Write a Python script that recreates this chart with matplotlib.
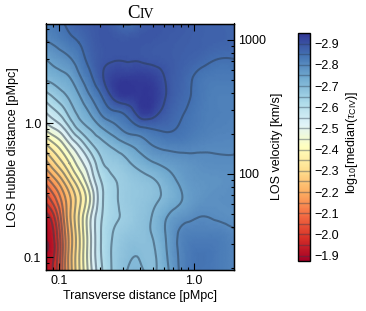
# median C IV optical depth map, transverse vs LOS distance
import numpy as np
import matplotlib
matplotlib.use('Agg')
import matplotlib.pyplot as plt
import matplotlib.tri as mtri
from matplotlib.ticker import FixedLocator, FixedFormatter, NullFormatter, LogLocator

plt.rcParams['font.family'] = ['Liberation Sans', 'DejaVu Sans']
plt.rcParams['mathtext.fontset'] = 'custom'
plt.rcParams['mathtext.rm'] = 'Liberation Sans'
plt.rcParams['mathtext.it'] = 'Liberation Serif:italic'

# transverse distance [pMpc], one per column
transverse = [0.08, 0.09, 0.105, 0.12, 0.14, 0.17, 0.2, 0.25, 0.32, 0.4, 0.5, 0.65, 0.85, 1.1, 1.5, 2.0]
# LOS distance [pMpc], one per row
los = [5.5, 4.0, 3.0, 2.2, 1.6, 1.2, 0.9, 0.7, 0.5, 0.37, 0.27, 0.2, 0.15, 0.11, 0.08]

# log10 median tau
log_tau = [
    [-2.82, -2.83, -2.845, -2.86, -2.875, -2.885, -2.89, -2.875, -2.845, -2.875, -2.89, -2.89, -2.885, -2.875, -2.87, -2.865],
    [-2.795, -2.805, -2.82, -2.835, -2.85, -2.875, -2.89, -2.893, -2.893, -2.893, -2.89, -2.885, -2.88, -2.875, -2.87, -2.865],
    [-2.75, -2.765, -2.78, -2.795, -2.825, -2.865, -2.888, -2.897, -2.897, -2.895, -2.89, -2.885, -2.875, -2.865, -2.85, -2.85],
    [-2.71, -2.72, -2.735, -2.75, -2.79, -2.84, -2.885, -2.925, -2.935, -2.935, -2.925, -2.89, -2.865, -2.84, -2.83, -2.83],
    [-2.63, -2.655, -2.685, -2.71, -2.745, -2.80, -2.84, -2.91, -2.94, -2.945, -2.94, -2.89, -2.86, -2.835, -2.82, -2.82],
    [-2.55, -2.58, -2.62, -2.67, -2.71, -2.755, -2.80, -2.84, -2.865, -2.925, -2.92, -2.875, -2.85, -2.83, -2.82, -2.815],
    [-2.46, -2.49, -2.53, -2.59, -2.655, -2.70, -2.735, -2.775, -2.815, -2.835, -2.85, -2.855, -2.84, -2.825, -2.815, -2.81],
    [-2.35, -2.39, -2.44, -2.50, -2.56, -2.64, -2.68, -2.715, -2.75, -2.775, -2.805, -2.82, -2.82, -2.81, -2.805, -2.805],
    [-2.23, -2.28, -2.34, -2.40, -2.47, -2.55, -2.63, -2.665, -2.69, -2.72, -2.745, -2.765, -2.78, -2.79, -2.795, -2.795],
    [-2.12, -2.17, -2.24, -2.31, -2.39, -2.50, -2.59, -2.645, -2.665, -2.68, -2.695, -2.73, -2.765, -2.78, -2.785, -2.79],
    [-2.02, -2.07, -2.16, -2.24, -2.33, -2.45, -2.57, -2.64, -2.665, -2.675, -2.69, -2.72, -2.755, -2.78, -2.79, -2.795],
    [-1.93, -1.98, -2.12, -2.24, -2.35, -2.49, -2.585, -2.64, -2.66, -2.68, -2.705, -2.755, -2.785, -2.80, -2.795, -2.79],
    [-1.905, -1.94, -2.09, -2.22, -2.34, -2.49, -2.59, -2.65, -2.675, -2.685, -2.705, -2.765, -2.815, -2.82, -2.82, -2.805],
    [-1.90, -1.93, -2.08, -2.22, -2.34, -2.49, -2.59, -2.655, -2.69, -2.695, -2.695, -2.76, -2.82, -2.84, -2.83, -2.81],
    [-1.92, -1.95, -2.09, -2.22, -2.34, -2.48, -2.58, -2.655, -2.70, -2.705, -2.695, -2.75, -2.82, -2.84, -2.83, -2.81],
]

levels = [-2.90 + 0.05 * i for i in range(21)]
cbar_ticks = [-2.9, -2.8, -2.7, -2.6, -2.5, -2.4, -2.3, -2.2, -2.1, -2.0, -1.9]
vmin, vmax = -2.95, -1.875
hubble = 239.0  # km/s per pMpc, links the two y axes
xlim = (0.0801, 1.98)
ylim = (0.0804, 5.53)
cmap = 'RdYlBu_r'
line_col = '#2c3c50'

fig = plt.figure(figsize=(3.66, 3.11), dpi=100)
W, H = 366.0, 311.0
rect = [46 / W, (H - 270) / H, 188 / W, 246.5 / H]

# map axes are linear in log10 so gouraud shading works, ticks go on a log axes above it
ax_map = fig.add_axes(rect)
xx, yy = np.meshgrid(np.log10(transverse), np.log10(los))
z = np.array(log_tau).ravel()
base = mtri.Triangulation(xx.ravel(), yy.ravel())
refiner = mtri.UniformTriRefiner(base)
fine, fine_z = refiner.refine_field(z, subdiv=3)
ax_map.tripcolor(fine, fine_z, shading='gouraud', cmap=cmap, vmin=vmin, vmax=vmax)
ax_map.tricontour(fine, fine_z, levels=levels, colors=line_col, linewidths=1.5, alpha=0.5,
                  negative_linestyles='solid')
ax_map.set_xlim(np.log10(xlim))
ax_map.set_ylim(np.log10(ylim))
ax_map.axis('off')

ax = fig.add_axes(rect)
ax.patch.set_visible(False)
ax.set_xscale('log')
ax.set_yscale('log')
ax.set_xlim(xlim)
ax.set_ylim(ylim)
ax.xaxis.set_major_locator(FixedLocator([0.1, 1.0]))
ax.xaxis.set_major_formatter(FixedFormatter(['0.1', '1.0']))
ax.xaxis.set_minor_formatter(NullFormatter())
ax.yaxis.set_major_locator(FixedLocator([0.1, 1.0]))
ax.yaxis.set_major_formatter(FixedFormatter(['0.1', '1.0']))
ax.yaxis.set_minor_formatter(NullFormatter())
ax.tick_params(which='major', direction='in', length=5, width=0.8, top=True, labelsize=9, pad=3.5)
ax.tick_params(which='minor', direction='in', length=2.5, width=0.8, top=True)
ax.tick_params(axis='y', right=False, which='both')
for s in ax.spines.values():
    s.set_linewidth(1.0)
ax.set_xlabel('Transverse distance [pMpc]', fontsize=9, labelpad=2)
ax.set_ylabel('LOS Hubble distance [pMpc]', fontsize=9)
ax.yaxis.set_label_coords(-0.144, 0.5)

# velocity axis on the right
ax2 = ax.twinx()
ax2.patch.set_visible(False)
ax2.set_yscale('log')
ax2.set_ylim(ylim[0] * hubble, ylim[1] * hubble)
ax2.yaxis.set_major_locator(FixedLocator([100, 1000]))
ax2.yaxis.set_major_formatter(FixedFormatter(['100', '1000']))
ax2.yaxis.set_minor_locator(LogLocator(base=10, subs=np.arange(2, 10) * 1.0, numticks=10))
ax2.yaxis.set_minor_formatter(NullFormatter())
ax2.tick_params(which='major', direction='in', length=5, width=0.8, labelsize=9, pad=3)
ax2.tick_params(which='minor', direction='in', length=2.5, width=0.8)
ax2.set_ylabel('LOS velocity [km/s]', fontsize=9)
ax2.yaxis.set_label_coords(1.195, 0.5)

# title: large C, smaller IV
fig.text(127.5 / W, (H - 18) / H, 'C', family='Liberation Serif', fontsize=13.5, ha='left', va='baseline')
fig.text(140 / W, (H - 18) / H, 'IV', family='Liberation Serif', fontsize=10, ha='left', va='baseline')

# colorbar
cax = fig.add_axes([298 / W, (H - 261) / H, 12 / W, 228 / H])
sm = plt.cm.ScalarMappable(norm=plt.Normalize(vmin, vmax), cmap=cmap)
cb = fig.colorbar(sm, cax=cax)
cax.set_ylim(vmax, vmin)
cb.set_ticks(cbar_ticks)
cb.set_ticklabels(['\u2212%.1f' % abs(t) for t in cbar_ticks])
cb.ax.tick_params(length=0, labelsize=9, pad=3)
cb.outline.set_linewidth(1.0)
for lev in levels:
    cax.axhline(lev, color=line_col, lw=1.0, alpha=0.4)
cb.set_label(r'$\mathrm{log}_{10}[\mathrm{median}(\tau_{\mathrm{CIV}})]$', fontsize=9)
cax.yaxis.set_label_coords(3.85, 0.52)

fig.savefig('out.png', dpi=100)
